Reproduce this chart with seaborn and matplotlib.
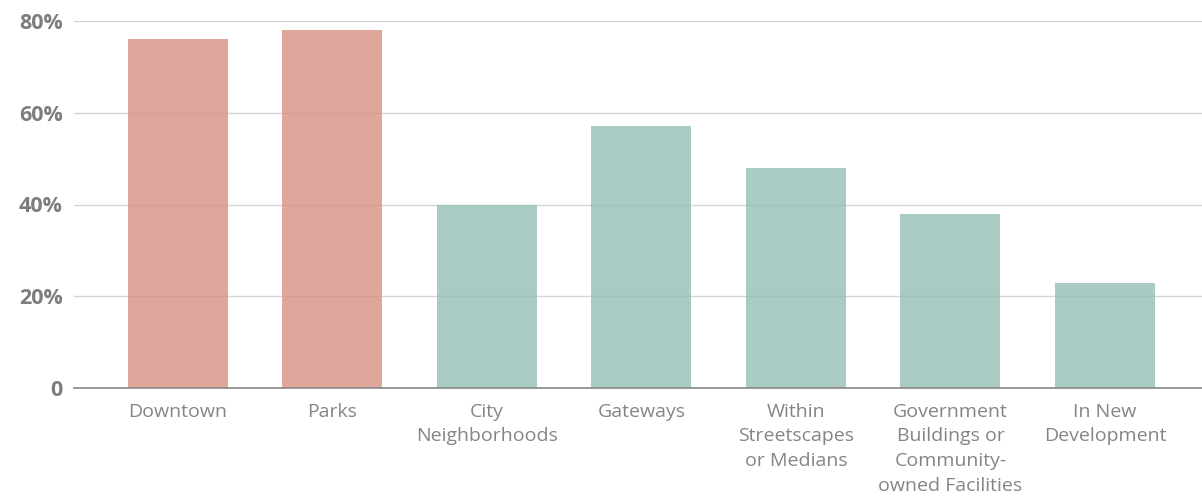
import matplotlib
matplotlib.use("Agg")
import matplotlib.pyplot as plt
import seaborn as sns
import pandas as pd
from matplotlib.ticker import FuncFormatter

# Survey results: where respondents want public art placed
categories = [
    "Downtown",
    "Parks",
    "City\nNeighborhoods",
    "Gateways",
    "Within\nStreetscapes\nor Medians",
    "Government\nBuildings or\nCommunity-\nowned Facilities",
    "In New\nDevelopment",
]
values = [76, 78, 40, 57, 48, 38, 23]
groups = ["top", "top", "other", "other", "other", "other", "other"]

palette = {"top": "#D89082", "other": "#94BEB6"}

df = pd.DataFrame({"category": categories, "value": values, "group": groups})

sns.set_theme(style="white")
plt.rcParams["font.family"] = ["Open Sans", "DejaVu Sans"]

fig = plt.figure(figsize=(12.02, 5.0), dpi=100)
ax = fig.add_axes([74 / 1202, 1 - 388.3 / 500, 1 - 74 / 1202, (388.3 - 20.7) / 500])

sns.barplot(
    data=df, x="category", y="value", hue="group", palette=palette,
    dodge=False, width=0.647, alpha=0.8, saturation=1, legend=False, ax=ax,
    zorder=3, linewidth=0,
)

ax.set_ylim(0, 80)
ax.set_xlim(-0.673, 6.628)
ax.set_yticks([0, 20, 40, 60, 80])
ax.yaxis.set_major_formatter(FuncFormatter(lambda v, _: "0" if v == 0 else f"{int(v)}%"))
ax.grid(axis="y", color="#d6d6d6", linewidth=1.0, zorder=0)
ax.set_axisbelow(True)

for side in ["top", "right", "left"]:
    ax.spines[side].set_visible(False)
ax.spines["bottom"].set_color("#888888")
ax.spines["bottom"].set_linewidth(1.2)
ax.spines["bottom"].set_zorder(5)

ax.set_xlabel("")
ax.set_ylabel("")
ax.tick_params(axis="y", length=0, pad=8, labelsize=15.5, labelcolor="#7d7d7d")
ax.tick_params(axis="x", length=0, pad=10.5, labelsize=14, labelcolor="#858585")
for lbl in ax.get_yticklabels():
    lbl.set_fontweight("bold")
for lbl in ax.get_xticklabels():
    lbl.set_linespacing(1.47)
    lbl.set_verticalalignment("top")

fig.savefig("out.png", dpi=100)
